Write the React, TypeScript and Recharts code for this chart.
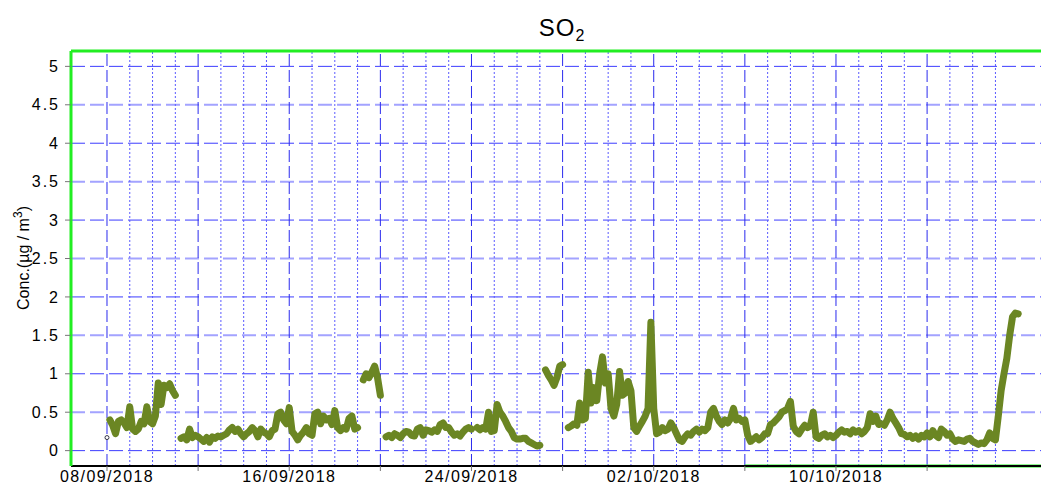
import React from "react";
import {
  LineChart,
  Line,
  XAxis,
  YAxis,
  ReferenceLine,
  ReferenceDot,
} from "recharts";

// SO2 readings every 3 hours from 08/09/2018 00:00 (8 values per day), null = no data
const so2Readings: (number | null)[] = [
  null, 0.40, 0.33, 0.22, 0.38, 0.40, 0.36, 0.30, // 08/09
  0.57, 0.28, 0.25, 0.28, 0.38, 0.35, 0.57, 0.38,
  0.35, 0.45, 0.88, 0.60, 0.85, 0.82, 0.87, 0.78,
  0.72, null, 0.16, 0.18, 0.14, 0.28, 0.17, 0.20,
  0.18, 0.15, 0.12, 0.17, 0.11, 0.18, 0.16, 0.19, // 12/09
  0.18, 0.20, 0.22, 0.27, 0.30, 0.25, 0.28, 0.22,
  0.18, 0.22, 0.25, 0.30, 0.26, 0.18, 0.28, 0.24,
  0.22, 0.18, 0.26, 0.28, 0.48, 0.50, 0.40, 0.35,
  0.56, 0.25, 0.20, 0.14, 0.20, 0.24, 0.30, 0.22, // 16/09
  0.20, 0.48, 0.50, 0.35, 0.45, 0.40, 0.42, 0.34,
  0.52, 0.30, 0.26, 0.30, 0.28, 0.42, 0.45, 0.28,
  0.30, null, 0.92, 1.00, 0.95, 1.02, 1.10, 0.95,
  0.72, null, 0.18, 0.20, 0.17, 0.22, 0.20, 0.17, // 20/09
  0.22, 0.25, 0.24, 0.20, 0.19, 0.28, 0.30, 0.20,
  0.27, 0.26, 0.24, 0.27, 0.25, 0.34, 0.36, 0.30,
  0.30, 0.24, 0.20, 0.22, 0.19, 0.24, 0.28, 0.30,
  0.28, null, 0.30, 0.27, 0.30, 0.28, 0.50, 0.25, // 24/09
  0.26, 0.60, 0.50, 0.45, 0.38, 0.30, 0.25, 0.17,
  0.15, 0.15, 0.16, 0.16, 0.12, 0.10, 0.08, 0.06,
  0.07, null, 1.05, 0.98, 0.92, 0.85, 0.95, 1.10,
  1.12, null, 0.30, 0.32, 0.35, 0.33, 0.62, 0.40, // 28/09
  0.42, 1.02, 0.62, 0.82, 0.65, 1.00, 1.22, 0.88,
  1.00, 0.55, 0.45, 0.60, 1.03, 0.72, 0.75, 0.90,
  0.78, 0.30, 0.25, 0.32, 0.38, 0.45, 0.55, 1.67,
  0.55, 0.22, 0.24, 0.30, 0.26, 0.28, 0.36, 0.30, // 02/10
  0.22, 0.14, 0.12, 0.18, 0.22, 0.20, 0.25, 0.28,
  0.24, 0.28, 0.26, 0.30, 0.50, 0.55, 0.45, 0.38,
  0.34, 0.40, 0.36, 0.42, 0.55, 0.40, 0.42, 0.38,
  0.40, 0.20, 0.12, 0.15, 0.18, 0.14, 0.17, 0.22, // 06/10
  0.22, 0.34, 0.36, 0.40, 0.44, 0.50, 0.52, 0.55,
  0.64, 0.32, 0.25, 0.22, 0.28, 0.33, 0.30, 0.32,
  0.50, 0.18, 0.16, 0.20, 0.22, 0.18, 0.20, 0.17,
  0.20, 0.24, 0.27, 0.24, 0.25, 0.22, 0.27, 0.24, // 10/10
  0.26, 0.22, 0.25, 0.30, 0.48, 0.38, 0.45, 0.34,
  0.35, 0.33, 0.40, 0.50, 0.42, 0.36, 0.30, 0.22,
  0.21, 0.18, 0.20, 0.16, 0.19, 0.15, 0.20, 0.18,
  0.23, 0.18, 0.26, 0.20, 0.17, 0.28, 0.25, 0.20, // 14/10
  0.22, 0.15, 0.12, 0.14, 0.13, 0.12, 0.15, 0.16,
  0.12, 0.10, 0.08, 0.10, 0.09, 0.14, 0.23, 0.16,
  0.14, 0.45, 0.78, 1.00, 1.20, 1.50, 1.74, 1.79,
  1.78, // 18/10
];

// lone first reading, drawn as an open marker
const firstReading = { day: 0, value: 0.17 };

const xTickDays = [0, 4, 8, 12, 16, 20, 24, 28, 32, 36];
const xTickLabels: Record<number, string> = {
  0: "08/09/2018",
  8: "16/09/2018",
  16: "24/09/2018",
  24: "02/10/2018",
  32: "10/10/2018",
};
const gridDays = Array.from({ length: 40 }, (_, i) => i);
const yTicks = [0, 0.5, 1, 1.5, 2, 2.5, 3, 3.5, 4, 4.5, 5];

const LINE_COLOR = "#6b8623";
const FONT = "'Liberation Sans', Arial, sans-serif";

const data = so2Readings.map((v, i) => ({ t: i / 8, so2: v }));

export default function App() {
  return (
    <div style={{ position: "absolute", left: 0, top: 0, width: 1041, height: 487, background: "#fff", fontFamily: FONT }}>
      <div style={{ position: "absolute", left: 462, top: 15, width: 200, textAlign: "center", fontSize: 24, lineHeight: "26px", letterSpacing: 1 }}>
        SO<sub style={{ fontSize: 16, verticalAlign: -5 }}>2</sub>
      </div>
      <div
        style={{
          position: "absolute",
          left: 22,
          top: 258,
          transform: "translate(-50%, -50%) rotate(-90deg)",
          whiteSpace: "nowrap",
          fontSize: 16,
        }}
      >
        Conc.(µg / m<sup style={{ fontSize: 12 }}>3</sup>)
      </div>
      <LineChart width={1041} height={487} data={data} margin={{ top: 51, right: 0, bottom: 0, left: 0 }}>
        {yTicks.map((v) => (
          <ReferenceLine
            key={"h" + v}
            y={v}
            stroke={Number.isInteger(v) ? "#3c3cff" : "#a3a3ff"}
            strokeWidth={Number.isInteger(v) ? 1 : 2}
            strokeDasharray="14 5"
          />
        ))}
        {gridDays.map((d) => (
          <ReferenceLine
            key={"v" + d}
            x={d}
            stroke={d % 4 === 0 ? "#2a2aee" : "#5a5aff"}
            strokeWidth={1}
            strokeDasharray={d % 4 === 0 ? "12 4" : "2 2"}
          />
        ))}
        <ReferenceLine y={5.2} stroke="#22ee22" strokeWidth={3} />
        <ReferenceLine
          segment={[
            { x: 28, y: -0.2 },
            { x: 41, y: -0.2 },
          ]}
          stroke="#22ee22"
          strokeWidth={3}
        />
        <XAxis
          dataKey="t"
          type="number"
          domain={[-1.58, 41]}
          allowDataOverflow
          ticks={xTickDays}
          tickFormatter={(d: number) => xTickLabels[d] ?? ""}
          interval={0}
          height={21}
          tickSize={5}
          tickMargin={0}
          axisLine={{ stroke: "#000", strokeWidth: 2 }}
          tickLine={{ stroke: "#777" }}
          tick={{ fontSize: 16, fill: "#000", fontFamily: FONT, letterSpacing: 1.4 }}
        />
        <YAxis
          type="number"
          domain={[-0.2, 5.2]}
          allowDataOverflow
          ticks={yTicks}
          interval={0}
          width={71}
          tickSize={6}
          tickMargin={5}
          axisLine={{ stroke: "#22ee22", strokeWidth: 3 }}
          tickLine={{ stroke: "#777" }}
          tick={{ fontSize: 16, fill: "#000", fontFamily: FONT, letterSpacing: 2 }}
        />
        <Line
          type="linear"
          dataKey="so2"
          stroke={LINE_COLOR}
          strokeWidth={7}
          strokeLinejoin="round"
          strokeLinecap="round"
          dot={false}
          connectNulls={false}
          isAnimationActive={false}
        />
        <ReferenceDot x={firstReading.day} y={firstReading.value} r={2} fill="#fff" stroke="#334" strokeWidth={1} />
      </LineChart>
    </div>
  );
}
